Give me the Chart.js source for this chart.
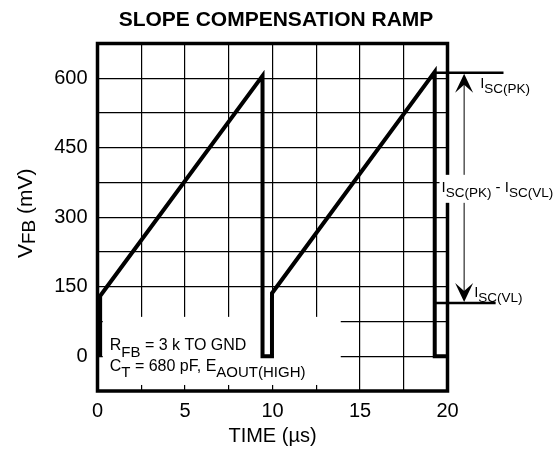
<!DOCTYPE html>
<html>
<head>
<meta charset="utf-8">
<script src="https://cdn.jsdelivr.net/npm/chart.js@4.4.1/dist/chart.umd.min.js"></script>
<style>
  html, body { margin: 0; padding: 0; background: #fff; }
</style>
</head>
<body>
<canvas id="chart" width="560" height="456"></canvas>
<script>
// waveform (time in us, V_FB in mV)
const timeUs = [0.15, 0.15, 9.43, 9.43, 9.97, 9.97, 19.27, 19.27, 20];
const vfbMv = [0, 130, 605, 0, 0, 136, 614, 0, 0];
const xTickLabels = [0, 5, 10, 15, 20];
const yTickLabels = [0, 150, 300, 450, 600];
const iscPeakMv = 612;
const iscValleyMv = 115;
const chartTitle = 'SLOPE COMPENSATION RAMP';

const FONT = '"Liberation Sans", Arial, Helvetica, sans-serif';
Chart.defaults.font.family = FONT;
Chart.defaults.color = '#000';

// draws a run of [text, isSub] parts, returns total width
function drawParts(ctx, parts, x, y, mainSize, subSize, subDrop, measureOnly) {
    let cx = x;
    parts.forEach(([txt, sub]) => {
        ctx.font = (sub ? subSize : mainSize) + 'px ' + FONT;
        if (!measureOnly) ctx.fillText(txt, cx, sub ? y + subDrop : y);
        cx += ctx.measureText(txt).width;
    });
    return cx - x;
}

function arrowHead(ctx, x, tipY, dir) {
    ctx.beginPath();
    ctx.moveTo(x, tipY);
    ctx.lineTo(x - 9, tipY + dir * 19);
    ctx.lineTo(x, tipY + dir * 11);
    ctx.lineTo(x + 9, tipY + dir * 19);
    ctx.closePath();
    ctx.fill();
}

const annotate = {
    id: 'annotate',
    beforeDatasetsDraw(chart) {
        const { ctx, scales: { x, y } } = chart;
        // blank panel behind the test conditions text
        const l = x.getPixelForValue(0.3), r = x.getPixelForValue(13.9);
        const t = y.getPixelForValue(85), b = y.getPixelForValue(-62);
        ctx.save();
        ctx.fillStyle = '#fff';
        ctx.fillRect(l, t, r - l, b - t);
        ctx.restore();
    },
    afterDatasetsDraw(chart) {
        const { ctx, chartArea: a, scales: { x, y } } = chart;
        ctx.save();
        ctx.fillStyle = '#000';
        ctx.strokeStyle = '#000';

        // title, centred over the whole figure rather than the plot
        ctx.font = 'bold 21px ' + FONT;
        ctx.textAlign = 'center';
        ctx.textBaseline = 'middle';
        ctx.fillText(chartTitle, 276, 20.5);

        // frame
        ctx.lineWidth = 3.5;
        ctx.strokeRect(a.left, a.top, a.right - a.left, a.bottom - a.top);

        // peak / valley levels
        const yPk = y.getPixelForValue(iscPeakMv);
        const yVl = y.getPixelForValue(iscValleyMv);
        ctx.lineWidth = 2.5;
        ctx.beginPath();
        ctx.moveTo(x.getPixelForValue(19.3), yPk);
        ctx.lineTo(x.getPixelForValue(23.2), yPk);
        ctx.moveTo(x.getPixelForValue(19.23), yVl);
        ctx.lineTo(x.getPixelForValue(22.75), yVl);
        ctx.stroke();

        // double arrow
        const ax = x.getPixelForValue(20.95);
        ctx.lineWidth = 1;
        ctx.beginPath();
        ctx.moveTo(ax, yPk + 10);
        ctx.lineTo(ax, yVl - 10);
        ctx.stroke();
        arrowHead(ctx, ax, yPk + 1, 1);
        arrowHead(ctx, ax, yVl - 1, -1);

        ctx.textBaseline = 'alphabetic';
        ctx.textAlign = 'left';
        drawParts(ctx, [['I', 0], ['SC(PK)', 1]], ax + 16, yPk + 15, 15, 13.5, 5);
        drawParts(ctx, [['I', 0], ['SC(VL)', 1]], ax + 10, yVl - 6, 15, 13.5, 5);

        // difference label over the frame
        const mid = [['I', 0], ['SC(PK)', 1], [' - ', 0], ['I', 0], ['SC(VL)', 1]];
        const mx = a.right - 6, my = (yPk + yVl) / 2 + 4;
        const mw = drawParts(ctx, mid, mx, my, 15, 13.5, 5, true);
        ctx.fillStyle = '#fff';
        ctx.fillRect(mx - 2, my - 17, mw + 4, 28);
        ctx.fillStyle = '#000';
        drawParts(ctx, mid, mx, my, 15, 13.5, 5);

        // test conditions
        const bx = x.getPixelForValue(0.3) + 7, by = y.getPixelForValue(85);
        drawParts(ctx, [['R', 0], ['FB', 1], [' = 3 k TO GND', 0]], bx, by + 33, 16, 15, 7);
        drawParts(ctx, [['C', 0], ['T', 1], [' = 680 pF, E', 0], ['AOUT(HIGH)', 1]], bx, by + 54, 16, 15, 6);

        // y axis title with subscript
        const yt = [['V', 0], ['FB', 1], [' (mV)', 0]];
        const yw = drawParts(ctx, yt, 0, 0, 21, 19, 3, true);
        ctx.translate(32, (a.top + a.bottom) / 2 - 4);
        ctx.rotate(-Math.PI / 2);
        drawParts(ctx, yt, -yw / 2, 0, 21, 19, 3);
        ctx.restore();
    }
};

new Chart(document.getElementById('chart'), {
    type: 'line',
    data: {
        datasets: [{
            data: timeUs.map((t, i) => ({ x: t, y: vfbMv[i] })),
            borderColor: '#000',
            borderWidth: 4,
            pointRadius: 0,
            tension: 0,
            fill: false,
            clip: false
        }]
    },
    options: {
        responsive: false,
        animation: false,
        layout: { padding: { left: 0, right: 112.5, top: 43.5, bottom: 0 } },
        plugins: {
            legend: { display: false },
            tooltip: { enabled: false },
            title: { display: false }
        },
        scales: {
            x: {
                type: 'linear',
                min: 0,
                max: 20,
                afterFit: s => { s.height = 65; },
                ticks: {
                    stepSize: 2.5,
                    autoSkip: false,
                    maxRotation: 0,
                    padding: 8,
                    color: '#000',
                    font: { size: 20 },
                    callback: v => xTickLabels.includes(v) ? String(v) : ''
                },
                grid: { color: '#000', lineWidth: 1.2, drawTicks: false },
                border: { display: false },
                title: {
                    display: true,
                    text: 'TIME (µs)',
                    color: '#000',
                    font: { size: 20 },
                    padding: { top: 0, bottom: 7.6 }
                }
            },
            y: {
                type: 'linear',
                min: -75,
                max: 675,
                afterFit: s => { s.width = 97.5; },
                ticks: {
                    stepSize: 75,
                    autoSkip: false,
                    padding: 10,
                    color: '#000',
                    font: { size: 20 },
                    callback: v => yTickLabels.includes(v) ? String(v) : ''
                },
                grid: { color: '#000', lineWidth: 1.2, drawTicks: false },
                border: { display: false }
            }
        }
    },
    plugins: [annotate]
});
</script>
</body>
</html>
